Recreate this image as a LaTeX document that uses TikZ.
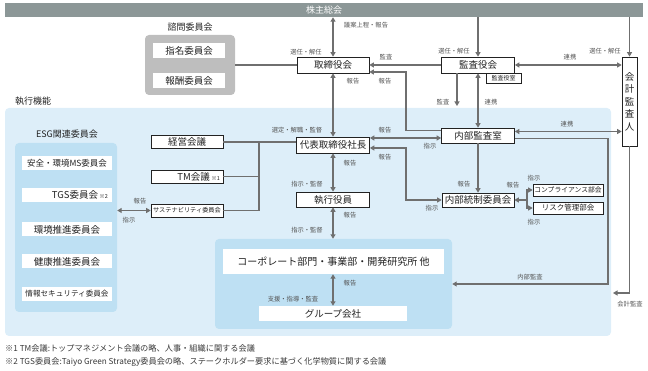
\documentclass[tikz,border=0pt]{standalone}
\usepackage{fontspec}
\setmainfont{Noto Sans CJK JP}
\usetikzlibrary{arrows.meta, positioning}
\definecolor{cBar}{HTML}{8C9797}
\definecolor{cLine}{HTML}{6F6F6F}
\definecolor{cExec}{HTML}{DDEEF9}
\definecolor{cEsg}{HTML}{BEE0F3}
\definecolor{cAdv}{HTML}{BEBEBE}
\definecolor{cLabel}{HTML}{555555}
\definecolor{cText}{HTML}{222222}

\tikzset{
  wbox/.style={draw=cText, line width=0.7pt, fill=white, text=cText, inner sep=0pt,
    font=\fontsize{9.5}{10}\selectfont},
  plainbox/.style={fill=white, text=cText, inner sep=0pt, font=\fontsize{8.5}{10}\selectfont},
  lbl/.style={text=cLabel, inner sep=0pt, font=\fontsize{6.3}{7}\selectfont},
  title/.style={text=cText, inner sep=0pt, font=\fontsize{9}{10}\selectfont},
  note/.style={text=cText!90, inner sep=0pt, anchor=west, font=\fontsize{8.2}{9}\selectfont},
  conn/.style={draw=cLine, line width=1.6pt},
  arr/.style={conn, -{Triangle[length=4.5pt,width=5pt]}},
  darr/.style={conn, {Triangle[length=4.5pt,width=5pt]}-{Triangle[length=4.5pt,width=5pt]}},
}

\begin{document}
\begin{tikzpicture}[x=1pt, y=-1pt]
  \useasboundingbox (0,0) rectangle (648,371);

  % backgrounds
  \fill[cExec, rounded corners=4pt] (5,108) rectangle (611,336);
  \node[title] (execlbl) at (33,101) {執行機能};
  \node[fill=cBar, text=white, minimum width=638pt, minimum height=14pt, inner sep=0pt,
    font=\fontsize{9}{10}\selectfont] (kabu) at (324,10) {株主総会};

  % advisory committees
  \node[title] (shimonlbl) at (190,27) {諮問委員会};
  \node[fill=cAdv, rounded corners=4pt, minimum width=90pt, minimum height=60pt] (shimon) at (190,65) {};
  \node[plainbox, minimum width=72pt, minimum height=15pt, font=\fontsize{9.5}{10}\selectfont] (shimei) at (189,50.5) {指名委員会};
  \node[plainbox, minimum width=72pt, minimum height=15pt, font=\fontsize{9.5}{10}\selectfont] (hoshu) at (189,80.5) {報酬委員会};

  % board and auditors
  \node[wbox, minimum width=72pt, minimum height=16pt] (torishimari) at (333,65) {取締役会};
  \node[wbox, minimum width=73pt, minimum height=16pt] (kansayaku) at (478,65) {監査役会};
  \node[wbox, line width=0.5pt, minimum width=35pt, minimum height=10pt,
    font=\fontsize{6}{6}\selectfont] (kansashitsu) at (503.5,78) {監査役室};
  \node[wbox, minimum width=15pt, minimum height=89pt, align=center,
    font=\fontsize{9.5}{12.5}\selectfont] (kaikei) at (629.5,101.5) {会\\計\\監\\査\\人};

  % execution
  \node[wbox, minimum width=73pt, minimum height=15pt] (naibu) at (478,135.5) {内部監査室};
  \node[wbox, minimum width=73pt, minimum height=16pt] (daihyo) at (333,145) {代表取締役社長};
  \node[wbox, minimum width=73pt, minimum height=15pt] (shikko) at (333,199.5) {執行役員};
  \node[wbox, minimum width=72pt, minimum height=14pt] (tosei) at (478,200) {内部統制委員会};
  \node[wbox, minimum width=70pt, minimum height=12pt, font=\fontsize{6.8}{7}\selectfont] (comp) at (568,190) {コンプライアンス部会};
  \node[wbox, minimum width=70pt, minimum height=12pt, font=\fontsize{7.5}{8}\selectfont] (risk) at (568,208) {リスク管理部会};

  \node[wbox, minimum width=72pt, minimum height=13pt] (keiei) at (187,142) {経営会議};
  \node[wbox, minimum height=13pt, text width=66pt, inner xsep=3pt, align=right] (tm) at (187,176.5)
    {TM会議\,{\fontsize{5.5}{6}\selectfont ※1}};
  \node[wbox, minimum width=72pt, minimum height=13pt, font=\fontsize{6.2}{7}\selectfont] (sus) at (187,210.5) {サステナビリティ委員会};

  % ESG committees
  \node[title] (esglbl) at (67,134) {ESG関連委員会};
  \node[fill=cEsg, rounded corners=4pt, minimum width=102pt, minimum height=169pt] (esg) at (66,227.5) {};
  \node[plainbox, minimum width=90pt, minimum height=14pt] (anzen) at (67,163) {安全・環境MS委員会};
  \node[plainbox, minimum height=14pt, text width=82pt, inner xsep=4pt, align=right] (tgs) at (67,195)
    {{\fontsize{9.5}{10}\selectfont TGS委員会}\,{\fontsize{5.5}{6}\selectfont ※2}};
  \node[plainbox, minimum width=90pt, minimum height=14pt, font=\fontsize{9.5}{10}\selectfont] (kankyo) at (67,229.5) {環境推進委員会};
  \node[plainbox, minimum width=90pt, minimum height=14pt, font=\fontsize{9.5}{10}\selectfont] (kenko) at (67,261.5) {健康推進委員会};
  \node[plainbox, minimum width=90pt, minimum height=14pt, font=\fontsize{7.6}{8}\selectfont] (joho) at (67,294) {情報セキュリティ委員会};

  % corporate divisions
  \node[fill=cEsg, rounded corners=4pt, minimum width=237pt, minimum height=90pt] (corp) at (333.5,284) {};
  \node[plainbox, minimum width=221pt, minimum height=25pt, font=\fontsize{10}{11}\selectfont] (corpbar) at (333.5,261.5)
    {コーポレート部門・事業部・開発研究所 他};
  \node[plainbox, minimum width=148pt, minimum height=15pt, font=\fontsize{9.5}{10}\selectfont] (group) at (333,313.5) {グループ会社};

  % helper points
  \coordinate (elbowA) at (406,0);
  \coordinate (kansaend) at (457,106);
  \coordinate (fork) at (527,200);
  \coordinate (naibuturn) at (608,284);
  \coordinate (kaikeiend) at (613,293);
  \coordinate (jn) at (259,0);

  % connectors
  \draw[darr] (torishimari.north |- kabu.south) -- (torishimari.north);
  \draw[arr] (kansayaku.north |- kabu.south) -- (kansayaku.north);
  \draw[arr] (kaikei.north |- kabu.south) -- (kaikei.north);
  \draw[conn] (shimon.east) -- (torishimari.west);
  \draw[arr] (kansayaku.west) -- (torishimari.east);
  \draw[darr] (kansayaku.east) -- (kaikei.west |- kansayaku.east);
  \draw[arr] (kansayaku.south -| kansaend) -- (kansaend);
  \draw[darr] (kansayaku.south) -- (naibu.north);
  \draw[arr] ([yshift=5pt]naibu.west) -| ([yshift=-7pt]elbowA |- torishimari.east) -- ([yshift=-7pt]torishimari.east);
  \draw[darr] ([yshift=-2.5pt]naibu.west) -- ([yshift=-2.5pt]naibu.west -| daihyo.east);
  \draw[darr] ([yshift=-3pt]daihyo.east) -| (elbowA |- tosei.west) -- (tosei.west);
  \draw[arr] (naibu.south) -- (tosei.north);
  \draw[arr] (fork) -- (tosei.east);
  \draw[arr] (fork) |- (comp.west);
  \draw[arr] (fork) |- (risk.west);
  \draw[darr] ([yshift=4pt]naibu.east) -- ([yshift=4pt]naibu.east -| kaikei.west);
  \draw[arr] ([yshift=-3pt]naibu.east) -| (naibuturn) -- (corp.east |- naibuturn);
  \draw[arr] (kaikei.south) |- (kaikeiend);
  \draw[darr] (torishimari.south) -- (daihyo.north);
  \draw[darr] (daihyo.south) -- (shikko.north);
  \draw[darr] (shikko.south) -- (shikko.south |- corp.north);
  \draw[darr] (corpbar.south -| group.north) -- (group.north);
  \draw[conn] (keiei.east) -- (keiei.east -| daihyo.west);
  \draw[conn] (tm.east) -- (tm.east -| jn);
  \draw[conn] (sus.east) -| (jn |- keiei.east);
  \draw[darr] (sus.west) -- (sus.west -| esg.east);

  % connector labels
  \node[lbl] (l1) at (366,25) {議案上程・報告};
  \node[lbl] (l2) at (306,52) {選任・解任};
  \node[lbl] (l3) at (386,57) {監査};
  \node[lbl] (l4) at (353,81) {報告};
  \node[lbl] (l5) at (385,81) {報告};
  \node[lbl] (l6) at (454,51) {選任・解任};
  \node[lbl] (l7) at (605,51) {選任・解任};
  \node[lbl] (l8) at (570,57) {連携};
  \node[lbl] (l9) at (443,102) {監査};
  \node[lbl] (l10) at (491,102) {連携};
  \node[lbl] (l11) at (297,130) {選定・解職・監督};
  \node[lbl] (l12) at (385,130) {報告};
  \node[lbl] (l13) at (430,146) {指示};
  \node[lbl] (l14) at (567,124) {連携};
  \node[lbl] (l15) at (385,157) {報告};
  \node[lbl] (l16) at (350,163) {報告};
  \node[lbl] (l17) at (307,184) {指示・監督};
  \node[lbl] (l18) at (350,215) {報告};
  \node[lbl] (l19) at (307,230) {指示・監督};
  \node[lbl] (l20) at (464,184) {報告};
  \node[lbl] (l21) at (432,208) {指示};
  \node[lbl] (l22) at (513,185) {報告};
  \node[lbl] (l23) at (534,178) {指示};
  \node[lbl] (l24) at (534,222) {指示};
  \node[lbl] (l25) at (530,277) {内部監査};
  \node[lbl] (l26) at (630,304) {会計監査};
  \node[lbl] (l27) at (140,201) {報告};
  \node[lbl] (l28) at (129,220) {指示};
  \node[lbl] (l29) at (350,283) {報告};
  \node[lbl] (l30) at (293,299) {支援・指導・監査};

  % footnotes
  \node[note] (note1) at (5,348)
    {※1 TM会議:トップマネジメント会議の略、人事・組織に関する会議};
  \node[note] (note2) at (5,362)
    {※2 TGS委員会:Taiyo Green Strategy委員会の略、ステークホルダー要求に基づく化学物質に関する会議};
\end{tikzpicture}
\end{document}
